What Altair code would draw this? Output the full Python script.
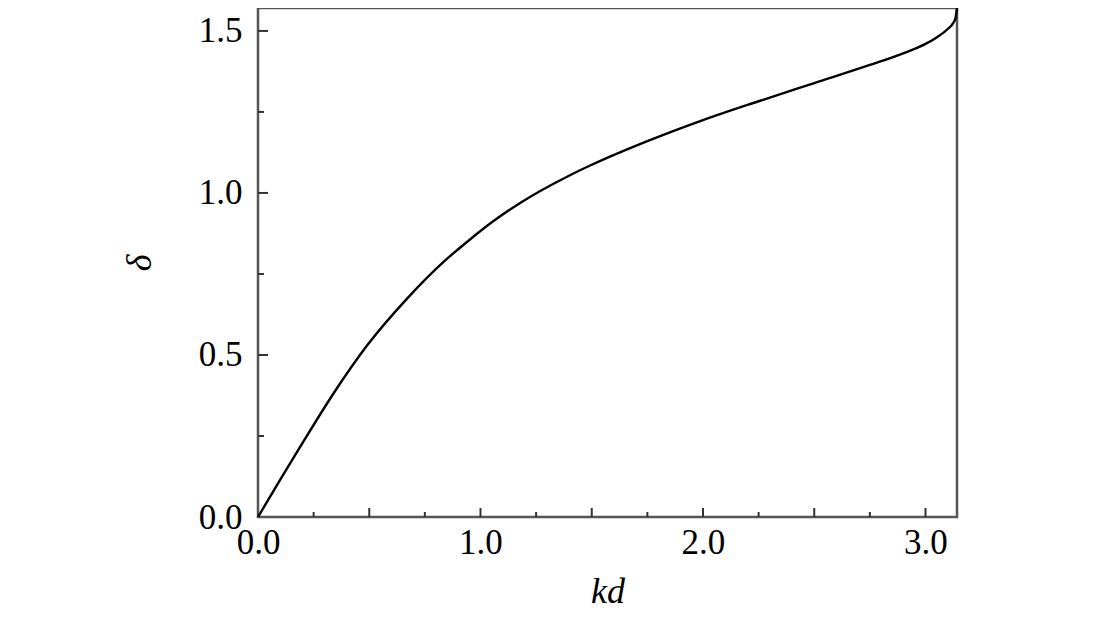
import math
import altair as alt
import pandas as pd

# curve values
kd = [0.0, 0.1, 0.19, 0.34, 0.49, 0.67, 0.84, 0.95, 1.06, 1.18, 1.40, 1.50, 1.75,
      2.00, 2.25, 2.50, 2.75, 2.90, 3.00, 3.05, 3.10, 3.125, 3.135, math.pi]
delta = [0.0, 0.115, 0.217, 0.382, 0.529, 0.674, 0.791, 0.855, 0.914, 0.970, 1.054,
         1.087, 1.160, 1.225, 1.283, 1.339, 1.395, 1.431, 1.46, 1.48, 1.506,
         1.525, 1.54, math.pi / 2]

x_major = [0.5, 1.0, 1.5, 2.0, 2.5, 3.0]
x_minor = [0.25, 0.75, 1.25, 1.75, 2.25, 2.75]
y_major = [0.5, 1.0, 1.5]
y_minor = [0.25, 0.75, 1.25]
x_labels = [0.0, 1.0, 2.0, 3.0]
y_labels = [0.0, 0.5, 1.0, 1.5]

W, H = 699, 509
FONT = "Liberation Serif"

xs = alt.Scale(domain=[0, math.pi], nice=False, zero=False)
ys = alt.Scale(domain=[0, math.pi / 2], nice=False, zero=False)

df = pd.DataFrame({"kd": kd, "delta": delta})

line = alt.Chart(df).mark_line(color="black", strokeWidth=2.4, interpolate="monotone").encode(
    x=alt.X("kd:Q", scale=xs,
            axis=alt.Axis(values=x_labels, format=".1f", ticks=False, domain=False, grid=False,
                          labelFont=FONT, labelFontSize=35, labelColor="black", labelPadding=8,
                          labelFlush=False, title="kd", titleFont=FONT, titleFontSize=36,
                          titleFontStyle="italic", titleFontWeight="normal", titleColor="black",
                          titlePadding=14)),
    y=alt.Y("delta:Q", scale=ys,
            axis=alt.Axis(values=y_labels, format=".1f", ticks=False, domain=False, grid=False,
                          labelFont=FONT, labelFontSize=35, labelColor="black", labelPadding=16,
                          labelFlush=False, title="δ", titleFont=FONT, titleFontSize=36,
                          titleFontStyle="italic", titleFontWeight="normal", titleColor="black",
                          titlePadding=40)),
)

def xticks(vals, length):
    return alt.Chart(pd.DataFrame({"v": vals})).mark_rule(color="#333", strokeWidth=2).encode(
        x=alt.X("v:Q", scale=xs), y=alt.value(H), y2=alt.value(H - length))

def yticks(vals, length):
    return alt.Chart(pd.DataFrame({"v": vals})).mark_rule(color="#333", strokeWidth=2).encode(
        y=alt.Y("v:Q", scale=ys), x=alt.value(0), x2=alt.value(length))

chart = alt.layer(
    xticks(x_major, 9), xticks(x_minor, 5), yticks(y_major, 10), yticks(y_minor, 6), line
).properties(
    width=W, height=H,
    autosize=alt.AutoSizeParams(type="none"),
    padding={"left": 250, "top": 0, "right": 130, "bottom": 96},
).configure_view(stroke="#555", strokeWidth=2.5)

chart.save("out.html", embed_options={"renderer": "svg", "actions": False})
